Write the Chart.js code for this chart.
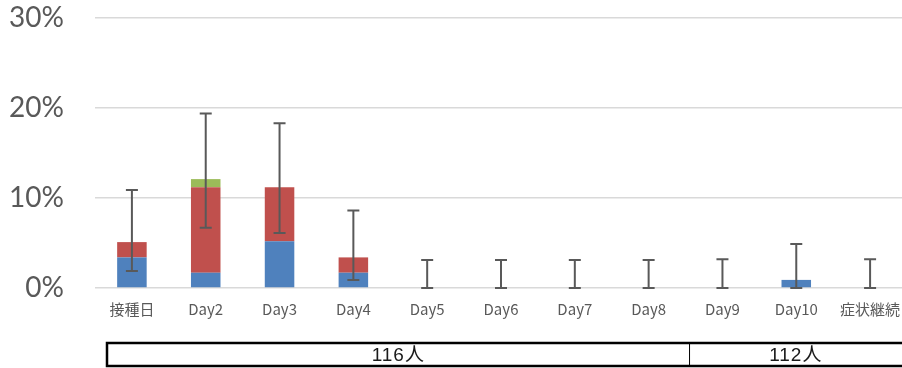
<!DOCTYPE html>
<html>
<head>
<meta charset="utf-8">
<script src="https://cdn.jsdelivr.net/npm/chart.js@4.4.0/dist/chart.umd.min.js"></script>
<style>
  html, body { margin: 0; padding: 0; background: #fff; overflow: hidden; }
  #wrap { position: relative; width: 907px; height: 368px; }
</style>
</head>
<body>
<div id="wrap"><canvas id="grafico"></canvas></div>
<script>
// dati (in %)
const giorni = ["接種日", "Day2", "Day3", "Day4", "Day5", "Day6", "Day7", "Day8", "Day9", "Day10", "症状継続"];
const blu = [3.4, 1.7, 5.2, 1.7, 0, 0, 0, 0, 0, 0.9, 0];
const rosso = [1.7, 9.5, 6.0, 1.7, 0, 0, 0, 0, 0, 0, 0];
const verde = [0, 0.9, 0, 0, 0, 0, 0, 0, 0, 0, 0];
const erroreBasso = [1.9, 6.7, 6.1, 0.9, 0, 0, 0, 0, 0, 0, 0];
const erroreAlto = [10.9, 19.4, 18.3, 8.6, 3.1, 3.1, 3.1, 3.1, 3.2, 4.9, 3.2];
const tickY = [0, 10, 20, 30];
// tabella sotto il grafico
const gruppi = ["116人", "112人"];
const divisione = 7.5; // tra Day8 e Day9

// barre d'errore
const barreErrore = {
  id: "barreErrore",
  afterDatasetsDraw(chart) {
    const ctx = chart.ctx;
    const x = chart.scales.x;
    const y = chart.scales.y;
    ctx.save();
    ctx.strokeStyle = "#595959";
    ctx.lineWidth = 2;
    for (let i = 0; i < giorni.length; i++) {
      const px = x.getPixelForValue(i);
      const y1 = y.getPixelForValue(erroreBasso[i]);
      const y2 = y.getPixelForValue(erroreAlto[i]);
      ctx.beginPath();
      ctx.moveTo(px, y1);
      ctx.lineTo(px, y2);
      ctx.moveTo(px - 6, y1);
      ctx.lineTo(px + 6, y1);
      ctx.moveTo(px - 6, y2);
      ctx.lineTo(px + 6, y2);
      ctx.stroke();
    }
    ctx.restore();
  },
};

// tabella con numero di persone
const tabella = {
  id: "tabella",
  afterDraw(chart) {
    const ctx = chart.ctx;
    const x = chart.scales.x;
    const sinistra = 107;
    const destra = 902;
    const alto = 343;
    const basso = 366;
    const div = x.getPixelForValue(divisione) + 4;
    ctx.save();
    ctx.strokeStyle = "#000";
    ctx.lineWidth = 2.5;
    ctx.beginPath();
    ctx.moveTo(destra + 10, alto);
    ctx.lineTo(sinistra, alto);
    ctx.lineTo(sinistra, basso);
    ctx.lineTo(destra + 10, basso);
    ctx.stroke();
    ctx.lineWidth = 1;
    ctx.beginPath();
    ctx.moveTo(div, alto);
    ctx.lineTo(div, basso);
    ctx.stroke();
    ctx.fillStyle = "#1a1a1a";
    ctx.font = '19px "Liberation Sans", "Noto Sans CJK JP", sans-serif';
    ctx.letterSpacing = "1px";
    ctx.textAlign = "center";
    ctx.textBaseline = "middle";
    ctx.fillText(gruppi[0], (sinistra + div) / 2, (alto + basso) / 2 + 1);
    ctx.fillText(gruppi[1], (div + destra) / 2, (alto + basso) / 2 + 1);
    ctx.restore();
  },
};

const ctx = document.getElementById("grafico").getContext("2d");
const grafico = new Chart(ctx, {
  type: "bar",
  data: {
    labels: giorni,
    datasets: [
      { data: blu, backgroundColor: "#4F81BD" },
      { data: rosso, backgroundColor: "#C0504D" },
      { data: verde, backgroundColor: "#9BBB59" },
    ],
  },
  options: {
    responsive: true,
    maintainAspectRatio: false,
    animation: false,
    layout: { padding: { top: 18, bottom: 40, left: 0, right: 0 } },
    datasets: { bar: { categoryPercentage: 1, barPercentage: 0.4 } },
    plugins: { legend: { display: false }, tooltip: { enabled: false } },
    scales: {
      x: {
        stacked: true,
        afterFit(scale) {
          scale.height = 40;
        },
        grid: { display: false },
        border: { display: false },
        ticks: {
          color: "#595959",
          font: { family: '"Noto Sans CJK JP", sans-serif', size: 15 },
          padding: 4,
          maxRotation: 0,
          autoSkip: false,
        },
      },
      y: {
        stacked: true,
        min: 0,
        max: 30,
        afterBuildTicks(scale) {
          scale.ticks = tickY.map((v) => ({ value: v }));
        },
        afterFit(scale) {
          scale.width = 95;
          scale.paddingTop = 0;
          scale.paddingBottom = 0;
        },
        grid: { color: "#d9d9d9", lineWidth: 1.5, drawTicks: false },
        border: { display: false },
        ticks: {
          color: "#595959",
          font: { family: "Lato, sans-serif", size: 28 },
          padding: 31,
          callback: (v) => v + "%",
        },
      },
    },
  },
  plugins: [barreErrore, tabella],
});
</script>
</body>
</html>
